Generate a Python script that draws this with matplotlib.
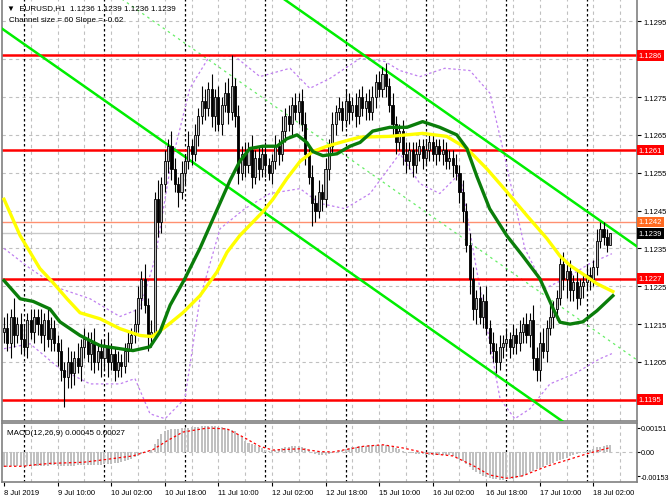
import numpy as np
import matplotlib
matplotlib.use("Agg")
import matplotlib.pyplot as plt

# ---- data (prices in pips above 1.1200, one entry per H1 bar, bar 0 = 8 Jul 18:00) ----
BASE = 1.1200
first_open = 13
closes = [
    14, 10, 17, 12, 15, 11, 9, 16, 13, 17,
    15, 12, 16, 11, 14, 10, 8, 3, 1, 5,
    2, 6, 4, 9, 11, 7, 10, 5, 8, 6,
    9, 5, 7, 3, 5, 4, 8, 10, 12, 15,
    22, 27, 20, 12, 13, 48, 42, 52, 58, 62,
    56, 52, 50, 55, 58, 62, 60, 65, 70, 74,
    72, 77, 70, 75, 68, 73, 76, 71, 78, 70,
    55, 60, 57, 61, 54, 59, 56, 60, 57, 55,
    58, 62, 60, 66, 70, 68, 73, 71, 74, 68,
    60, 54, 47, 45, 50, 48, 56, 62, 68, 71,
    72, 69, 74, 71, 73, 70, 75, 72, 74, 71,
    75, 79, 77, 81, 78, 73, 68, 63, 66, 60,
    58, 61, 57, 60, 62, 59, 61, 63, 60, 62,
    60, 61, 58, 59, 57, 55, 50, 45, 36, 27,
    19, 22, 17, 21, 14, 10, 8, 5, 9, 10,
    11, 9, 12, 10, 13, 15, 12, 16, 6, 3,
    10, 8, 14, 17, 19, 22, 31, 27, 29, 24,
    26, 22, 25, 26, 28, 27, 30, 37, 40, 38,
    36, 39,
]
hi_wick = [
    3, 4, 2, 5, 2, 3, 4, 2, 3, 2,
    2, 4, 2, 3, 3, 2, 2, 3, 2, 4,
    3, 2, 4, 2, 3, 2, 3, 4, 2, 3,
    2, 4, 3, 2, 3, 2, 2, 3, 2, 4,
    3, 2, 4, 2, 3, 2, 5, 2, 3, 2,
    4, 3, 2, 3, 2, 4, 2, 3, 2, 4,
    3, 2, 4, 2, 3, 2, 3, 4, 8, 2,
    3, 2, 3, 2, 4, 2, 3, 2, 3, 2,
    2, 3, 2, 4, 2, 3, 2, 3, 2, 3,
    3, 2, 3, 2, 3, 2, 3, 2, 3, 2,
    3, 2, 3, 2, 2, 3, 2, 3, 2, 3,
    3, 2, 3, 2, 3, 2, 3, 2, 2, 3,
    3, 2, 2, 3, 2, 2, 3, 2, 2, 2,
    2, 3, 2, 2, 2, 3, 2, 3, 2, 3,
    3, 2, 3, 2, 4, 2, 3, 2, 3, 2,
    3, 2, 3, 2, 3, 2, 3, 2, 4, 3,
    3, 4, 2, 3, 2, 2, 2, 3, 2, 3,
    2, 3, 2, 2, 3, 2, 2, 3, 2, 2,
    2, 0,
]
lo_wick = [
    3, 2, 4, 3, 2, 4, 2, 3, 2, 3,
    3, 2, 4, 2, 3, 2, 4, 3, 8, 3,
    4, 3, 2, 4, 3, 2, 4, 3, 2, 5,
    3, 4, 2, 3, 2, 3, 2, 3, 2, 2,
    2, 3, 2, 4, 3, 2, 4, 3, 2, 3,
    3, 2, 4, 2, 3, 2, 3, 2, 3, 2,
    3, 2, 3, 4, 2, 3, 2, 3, 2, 3,
    3, 2, 3, 2, 3, 2, 3, 2, 3, 2,
    3, 2, 3, 2, 3, 2, 3, 2, 3, 2,
    3, 2, 6, 3, 2, 3, 2, 3, 2, 3,
    2, 3, 2, 3, 2, 3, 2, 2, 3, 2,
    2, 3, 2, 2, 3, 2, 3, 3, 2, 3,
    3, 2, 3, 2, 2, 3, 2, 3, 2, 3,
    2, 3, 2, 2, 3, 2, 3, 3, 2, 4,
    3, 4, 2, 3, 2, 3, 3, 3, 2, 3,
    2, 3, 2, 3, 2, 3, 2, 3, 3, 3,
    3, 2, 3, 2, 3, 3, 2, 3, 5, 3,
    3, 3, 2, 3, 2, 3, 2, 2, 2, 2,
    2, 0,
]

# moving averages, read as (bar, pips) points
ma_green_bar = [0, 4.8, 8.7, 13.7, 16.7, 22.7, 28.7, 34.6, 38.5, 43.6, 46.6, 49.6, 54, 58.5, 64.5,
                67.5, 70.4, 73.4, 77.3, 81.5, 84.5, 87.5, 90.4, 92.2, 95.2, 99.4, 103.3, 106.3,
                110.1, 115.2, 120.3, 125, 130.1, 135.2, 138.2, 141.2, 145, 150.1, 154.9, 160,
                164, 166, 169, 172.8, 177, 181.8]
ma_green = [26.5, 21.7, 21, 19, 15.6, 12, 9.3, 8.5, 8, 9, 13, 20, 27, 35, 47,
            53, 58, 61.4, 62, 62, 64, 65, 63, 60.6, 59.5, 60, 62, 63,
            66, 67, 67, 68.5, 67, 65, 61.4, 54, 45.5, 38.4, 33, 27,
            19, 15.5, 15, 15.6, 18.5, 22.5]
ma_yellow_bar = [0, 4.8, 10.7, 14.6, 18.8, 22.7, 28.7, 34.6, 40.6, 44.2, 48.7, 53.4, 58.5, 63.6,
                 66.6, 70.4, 77.3, 80.3, 84.5, 88.4, 92.2, 96.4, 102.4, 106.3, 115.2, 125, 132.2,
                 138.2, 144.2, 150.1, 156.1, 162.1, 166, 169, 171.9, 177, 181.8]
ma_yellow = [48, 38.4, 29.7, 26, 21.7, 18, 16.4, 13.8, 12, 11.7, 14.6, 18, 22.5, 28.8,
             34, 38.4, 44.7, 48, 53.5, 58, 60.6, 62, 63.5, 64.4, 64.6, 65.4, 64.6,
             61.4, 56, 50, 43.7, 37.6, 33, 30.5, 28.8, 25.7, 23.6]

# envelope bands (bar, pips)
band_up_bar = [0, 7.8, 16.7, 25.7, 34.6, 40.6, 45.1, 49.6, 55.5, 61.5, 69, 76.4, 85.4, 91.3,
               97.3, 106.3, 113.7, 118.2, 124.2, 131.6, 139.1, 145.1, 149.6, 155.5, 161.5,
               167.5, 174.9, 181.5]
band_up = [35, 29.7, 24.4, 21.7, 17, 19.1, 32.3, 56.1, 77.3, 86, 85.7, 80.4, 82.6, 77.3,
           79.9, 85.2, 84.4, 82, 80.4, 82.6, 82, 76, 58.8, 35, 24.4, 27, 31, 33.6]
band_lo_bar = [0, 7.8, 16.7, 25.7, 34.6, 39.1, 43.6, 48.1, 54, 58.5, 64.5, 71.9, 79.4, 88.4,
               94.3, 101.8, 109.3, 118.2, 124.2, 130.1, 136.1, 142.1, 148.1, 152.5, 157, 163,
               170.4, 177.8, 181.5]
band_lo = [8.5, 9.8, 3.2, -0.8, -0.8, 0.6, -8.7, -10, -4.7, 21.7, 40.2, 45.5, 49.5, 50.8,
           46.9, 45.5, 49.5, 60.1, 52.1, 49.5, 54.8, 24.4, -4.7, -10, -7.4, -0.8,
           1.9, 5.8, 7.2]

# regression channel: lower line at bar 0, slope in pips per bar, width in pips
chan_start = 92.7
chan_slope = -0.62
chan_size = 60

levels_red = [1.1286, 1.1261, 1.1227, 1.1195]
level_orange = 1.1242
level_bid = 1.1239

# MACD histogram (1e-5 units, per bar) and signal line points
macd_hist = [
    -92, -92, -91, -91, -90, -90, -89, -89, -88, -88,
    -87, -87, -86, -86, -85, -85, -86, -87, -88, -88,
    -87, -86, -85, -84, -84, -83, -82, -82, -81, -80,
    -78, -77, -75, -72, -68, -63, -57, -50, -42, -33,
    -25, -15, -5, 5, 15, 50, 80, 110, 130, 138,
    142, 145, 146, 148, 150, 152, 154, 156, 158, 160,
    161, 162, 162, 160, 158, 155, 150, 144, 138, 132,
    110, 95, 70, 58, 50, 42, 32, 24, 14, 8,
    10, 15, 18, 22, 28, 32, 36, 38, 38, 34,
    25, 12, 0, -10, -18, -22, -20, -15, -8, 0,
    5, 10, 18, 24, 28, 32, 35, 38, 40, 42,
    44, 46, 45, 45, 44, 36, 30, 24, 16, 8,
    2, -4, -8, -12, -14, -16, -17, -18, -18, -19,
    -20, -20, -21, -22, -25, -32, -42, -58, -75, -95,
    -115, -128, -140, -150, -158, -164, -168, -172, -174, -174,
    -173, -171, -168, -165, -160, -150, -138, -125, -118, -110,
    -100, -92, -85, -78, -70, -60, -50, -42, -35, -28,
    -22, -15, -8, -2, 5, 12, 20, 28, 34, 38,
    42, 45,
]
sig_bar = [0, 5.7, 8.7, 13.7, 23.6, 28.7, 38.5, 44.5, 48.7, 53.4, 60.6, 66.6, 71.3, 76.4,
           80.3, 88.4, 94.3, 98.2, 107.2, 113.1, 119.1, 126.3, 134, 140, 145, 150.1, 154.9,
           162.1, 169, 174, 180.9]
sig_val = [-90, -90, -82, -72, -65, -52, -25, 15, 70, 125, 150, 145, 95, 35,
           12, 20, 2, 0, 35, 45, 25, -8, -25, -85, -145, -165, -150,
           -90, -45, -12, 27]

time_label_bars = [0, 16, 32, 48, 64, 80, 96, 112, 128, 144, 160, 176]
time_labels = ['8 Jul 2019', '9 Jul 10:00', '10 Jul 02:00', '10 Jul 18:00', '11 Jul 10:00',
               '12 Jul 02:00', '12 Jul 18:00', '15 Jul 10:00', '16 Jul 02:00', '16 Jul 18:00',
               '17 Jul 10:00', '18 Jul 02:00']
day_sep_bars = [6, 30, 54, 78, 102, 126, 150, 174]

# ---- figure ----
plt.rcParams['font.family'] = ['Liberation Sans', 'DejaVu Sans']
FS = 5.5
W, H = 670, 502
fig = plt.figure(figsize=(6.7, 5.02), dpi=100)
ax = fig.add_axes([2 / W, 1 - 422 / H, 635 / W, 422 / H])
axm = fig.add_axes([2 / W, 1 - 483 / H, 635 / W, 59 / H], sharex=ax)

n = len(closes)
x = np.arange(n)
c = BASE + np.array(closes) / 1e4
o = np.concatenate([[BASE + first_open / 1e4], c[:-1]])
hi = np.maximum(o, c) + np.array(hi_wick) / 1e4
lo = np.minimum(o, c) - np.array(lo_wick) / 1e4

ax.set_xlim(-0.6, 189.0)
ax.set_ylim(1.11894, 1.13009)

grid_kw = dict(color='#c0c0c0', lw=0.8, ls=(0, (3, 3)), zorder=0)
for gy in np.arange(1.1195, 1.1300, 0.0010):
    ax.axhline(gy, **grid_kw)
for gb in range(8, 190, 8):
    ax.axvline(gb, **grid_kw)
    axm.axvline(gb, **grid_kw)
for db in day_sep_bars:
    ax.axvline(db, color='black', lw=0.9, ls=(0, (2, 2)), zorder=0.5)
    axm.axvline(db, color='black', lw=0.9, ls=(0, (2, 2)), zorder=0.5)

# levels
ax.axhline(level_bid, color='#c8c8c8', lw=1, zorder=1)
ax.axhline(level_orange, color='#ff9070', lw=1, zorder=1)
for lv in levels_red:
    ax.axhline(lv, color='red', lw=1.8, zorder=2)

# bands
band_kw = dict(color='#c080f0', lw=0.9, ls=(0, (2, 2)), zorder=1.5)
ax.plot(band_up_bar, BASE + np.array(band_up) / 1e4, **band_kw)
ax.plot(band_lo_bar, BASE + np.array(band_lo) / 1e4, **band_kw)

# channel
cb = np.array([-1.0, 200.0])
low_line = BASE + (chan_start + chan_slope * cb) / 1e4
ax.plot(cb, low_line, color='#00ee00', lw=1.8, zorder=3)
ax.plot(cb, low_line + chan_size / 1e4, color='#00ee00', lw=1.8, zorder=3)
ax.plot(cb, low_line + chan_size / 2e4, color='#66ee66', lw=0.9, ls=(0, (2, 3)), zorder=1.5)

# candles
ax.vlines(x, lo, hi, color='black', lw=0.8, zorder=4)
bull = c >= o
body_lo = np.minimum(o, c)
body_h = np.maximum(np.abs(c - o), 0.00003)
ax.bar(x[bull], body_h[bull], bottom=body_lo[bull], width=0.62, color='#bcbcbc',
       edgecolor='black', lw=0.6, zorder=5)
ax.bar(x[~bull], body_h[~bull], bottom=body_lo[~bull], width=0.62, color='black',
       edgecolor='black', lw=0.6, zorder=5)

# moving averages
ax.plot(ma_yellow_bar, BASE + np.array(ma_yellow) / 1e4, color='#ffff00', lw=2.4, zorder=6)
ax.plot(ma_green_bar, BASE + np.array(ma_green) / 1e4, color='#0a7d0a', lw=2.4, zorder=6)

# right price scale (labels hidden under level boxes are left out)
ax.yaxis.tick_right()
ticks = np.round(np.arange(1.1195, 1.1300, 0.0010), 4)
ax.set_yticks(ticks)
ax.set_yticklabels(['' if round(t, 4) in (1.1285, 1.1195) else f'{t:.4f}' for t in ticks])
ax.tick_params(axis='y', labelsize=FS, length=3, pad=2, colors='black')
ax.tick_params(axis='x', bottom=False, labelbottom=False)
tr = ax.get_yaxis_transform()
box = dict(pad=1.3, edgecolor='none')
for lv in levels_red:
    ax.text(1.003, lv, f'{lv:.4f}', transform=tr, fontsize=FS, color='white', va='center',
            ha='left', bbox=dict(facecolor='red', **box), zorder=10, clip_on=False)
ax.text(1.003, level_orange, f'{level_orange:.4f}', transform=tr, fontsize=FS, color='white',
        va='center', ha='left', bbox=dict(facecolor='#ff6a20', **box), clip_on=False)
ax.text(1.003, level_bid, f'{level_bid:.4f}', transform=tr, fontsize=FS, color='white',
        va='center', ha='left', bbox=dict(facecolor='black', **box), clip_on=False)

ax.text(0.008, 0.988, '\u25BC  EURUSD,H1  1.1236 1.1239 1.1236 1.1239', transform=ax.transAxes,
        fontsize=FS + 0.3, va='top', ha='left')
ax.text(0.011, 0.96, 'Channel size = 60 Slope = -0.62', transform=ax.transAxes,
        fontsize=FS + 0.3, va='top', ha='left')

# MACD panel
axm.set_ylim(-0.00189, 0.00182)
axm.axhline(0, color='#c0c0c0', lw=0.8, ls=(0, (3, 3)), zorder=0)
axm.bar(x, np.array(macd_hist) / 1e5, width=0.6, color='#c0c0c0', zorder=2)
axm.plot(sig_bar, np.array(sig_val) / 1e5, color='red', lw=0.9, ls=(0, (2, 2)), zorder=3)
axm.yaxis.tick_right()
axm.set_yticks([0.00151, 0.0, -0.00153])
axm.set_yticklabels(['0.00151', '0.00', '-0.00153'])
axm.tick_params(axis='y', labelsize=5.2, length=2, pad=1)
axm.set_xticks(time_label_bars)
axm.set_xticklabels(time_labels)
axm.tick_params(axis='x', labelsize=FS, length=3, pad=2)
for lab in axm.get_xticklabels():
    lab.set_ha('left')
axm.text(0.008, 0.9, 'MACD(12,26,9) 0.00045 0.00027', transform=axm.transAxes, fontsize=FS + 0.3,
         va='top', ha='left')

for a in (ax, axm):
    for s in a.spines.values():
        s.set_color('#808080')
        s.set_linewidth(1.2)

fig.savefig('out.png', dpi=100)
